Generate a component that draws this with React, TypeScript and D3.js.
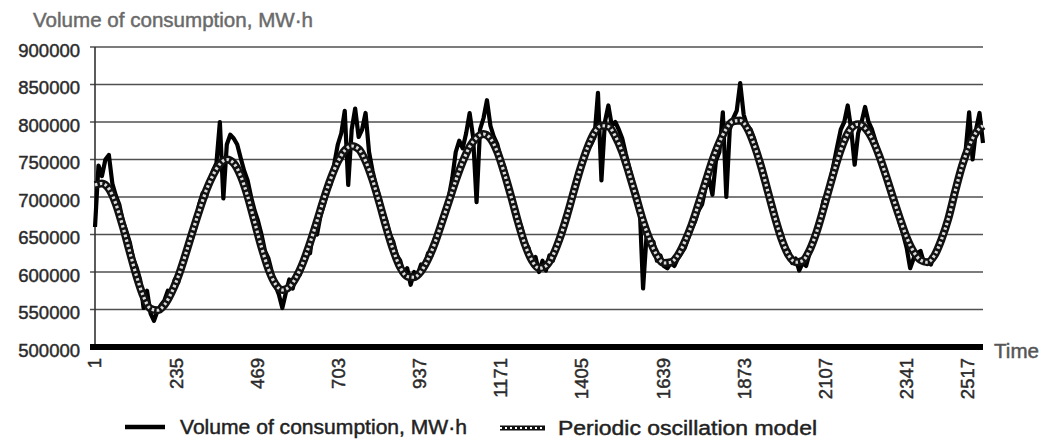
import React from "react";
import * as d3 from "d3";

// Values in thousands of MW·h
const UNIT = 1000;
const ACTUAL_STEP = 10; // time units between consumption samples
const MODEL_STEP = 20; // time units between model samples
const START_T = 1;

const consumption = [
  660, 742, 728, 750, 756, 718, 702, 690, 668, 655,
  640, 618, 606, 590, 552, 575, 545, 535, 548, 556,
  562, 575, 570, 590, 586, 612, 618, 640, 645, 660,
  690, 705, 700, 722, 735, 745, 800, 698, 770, 783,
  778, 770, 752, 735, 722, 700, 682, 668, 650, 628,
  618, 600, 582, 570, 552, 572, 590, 578, 598, 596,
  608, 630, 625, 660, 650, 675, 690, 708, 718, 745,
  770, 785, 815, 716, 790, 818, 780, 790, 812, 760,
  735, 715, 700, 680, 668, 650, 640, 622, 615, 598,
  605, 583, 600, 596, 610, 605, 625, 622, 645, 650,
  672, 675, 700, 725, 760, 775, 765, 785, 812, 780,
  693, 790, 805, 829, 795, 780, 770, 752, 740, 722,
  705, 690, 672, 658, 640, 632, 612, 620, 600, 615,
  602, 622, 615, 632, 640, 655, 668, 685, 702, 718,
  735, 748, 762, 770, 780, 839, 722, 800, 822, 795,
  800, 790, 778, 758, 740, 722, 705, 690, 578, 648,
  645, 640, 615, 622, 608, 605, 612, 608, 618, 625,
  632, 645, 658, 668, 682, 690, 712, 725, 703, 748,
  760, 813, 700, 790, 805, 815, 852, 810, 795, 790,
  778, 760, 748, 730, 712, 695, 680, 662, 650, 632,
  628, 612, 618, 602, 612, 608, 625, 640, 650, 672,
  695, 705, 722, 745, 768, 790, 800, 822, 790, 743,
  785, 800, 820, 800, 790, 775, 760, 745, 732, 718,
  700, 690, 665, 650, 632, 605, 618, 625, 628, 612,
  615, 610, 625, 630, 648, 655, 670, 688, 710, 722,
  745, 762, 813, 750, 790, 812, 772,
];

const model = [
  716, 718, 711, 691, 661, 627, 594, 567, 551, 549,
  556, 572, 594, 622, 652, 681, 708, 729, 744, 750,
  745, 728, 701, 667, 633, 604, 584, 576, 580, 593,
  613, 639, 668, 698, 725, 747, 762, 768, 764, 748,
  723, 692, 659, 629, 606, 594, 593, 601, 617, 639,
  666, 694, 722, 747, 767, 779, 784, 778, 760, 732,
  700, 666, 636, 615, 605, 608, 622, 645, 674, 707,
  739, 766, 786, 795, 794, 781, 760, 731, 700, 668,
  642, 622, 612, 613, 622, 640, 663, 691, 720, 749,
  773, 791, 801, 802, 792, 770, 741, 707, 673, 643,
  622, 613, 615, 629, 653, 684, 717, 749, 775, 792,
  797, 792, 778, 756, 729, 700, 672, 646, 627, 616,
  613, 622, 643, 671, 708, 742, 768, 786, 795,
];

const yTicks = [500000, 550000, 600000, 650000, 700000, 750000, 800000, 850000, 900000];
const xTicks = [1, 235, 469, 703, 937, 1171, 1405, 1639, 1873, 2107, 2341, 2517];
const X_DOMAIN = [1, 2561];
const Y_DOMAIN = [500000, 900000];

const TITLE = "Volume of consumption, MW·h";
const X_TITLE = "Time";
const LEGEND_ACTUAL = "Volume of consumption, MW·h";
const LEGEND_MODEL = "Periodic oscillation model";

const W = 1039;
const H = 441;
const FONT = "Liberation Sans, Arial, sans-serif";

export default function App() {
  const left = 95;
  const right = 983;
  const top = 47;
  const bottom = 347;

  const x = d3.scaleLinear().domain(X_DOMAIN).range([left, right]);
  const y = d3.scaleLinear().domain(Y_DOMAIN).range([bottom, top]);

  const actualPts = consumption.map((v, i) => [START_T + i * ACTUAL_STEP, v * UNIT] as [number, number]);
  const modelPts = model.map((v, i) => [START_T + i * MODEL_STEP, v * UNIT] as [number, number]);

  const lineA = d3
    .line<[number, number]>()
    .x((d) => x(d[0]))
    .y((d) => y(d[1]));
  const lineM = d3
    .line<[number, number]>()
    .x((d) => x(d[0]))
    .y((d) => y(d[1]))
    .curve(d3.curveMonotoneX);

  const aPath = lineA(actualPts) || "";
  const mPath = lineM(modelPts) || "";

  const heavy = (c: string) => ({ fill: c, stroke: c, strokeWidth: 0.45 });

  return (
    <svg
      width={W}
      height={H}
      style={{ position: "absolute", left: 0, top: 0, background: "#fff" }}
      fontFamily={FONT}
    >
      <rect width={W} height={H} fill="#fff" />
      <text x={33} y={27} fontSize={20} textLength={280} lengthAdjust="spacingAndGlyphs" {...heavy("#6a6a6a")}>
        {TITLE}
      </text>

      {/* grid lines + y ticks */}
      {yTicks.map((t) => (
        <g key={t}>
          {t !== 500000 && (
            <line x1={left - 5} x2={right} y1={y(t)} y2={y(t)} stroke="#505050" strokeWidth={1.4} />
          )}
          <text
            x={80}
            y={y(t) + 3}
            fontSize={18.5}
            textAnchor="end"
            dominantBaseline="central"
            {...heavy("#2a2a2a")}
          >
            {t}
          </text>
        </g>
      ))}

      {/* y axis */}
      <line x1={left} x2={left} y1={top} y2={bottom} stroke="#333" strokeWidth={1.6} />

      {/* actual data */}
      <path d={aPath} fill="none" stroke="#000" strokeWidth={4.2} strokeLinejoin="round" />

      {/* model */}
      <path d={mPath} fill="none" stroke="#111" strokeWidth={8} strokeLinejoin="round" />
      <path
        d={mPath}
        fill="none"
        stroke="#fff"
        strokeWidth={3.2}
        strokeDasharray="2.5 2.5"
        opacity={0.85}
      />

      {/* x axis */}
      <line x1={left - 5} x2={right} y1={bottom} y2={bottom} stroke="#000" strokeWidth={6} />
      <text x={994} y={358} fontSize={20} textLength={45} lengthAdjust="spacingAndGlyphs" {...heavy("#555")}>
        {X_TITLE}
      </text>

      {xTicks.map((t) => (
        <text
          key={t}
          transform={`translate(${x(t)},358) rotate(-90)`}
          textAnchor="end"
          dy="0.35em"
          fontSize={18.5}
          {...heavy("#2a2a2a")}
        >
          {t}
        </text>
      ))}

      {/* legend */}
      <line x1={125} x2={165} y1={427} y2={427} stroke="#000" strokeWidth={4.5} />
      <text x={180} y={434} fontSize={20} textLength={287} lengthAdjust="spacingAndGlyphs" {...heavy("#222")}>
        {LEGEND_ACTUAL}
      </text>
      <line x1={500} x2={545} y1={428} y2={428} stroke="#111" strokeWidth={5} />
      <line x1={500} x2={545} y1={428} y2={428} stroke="#fff" strokeWidth={2} strokeDasharray="2 3" />
      <text x={558} y={435} fontSize={20} textLength={259} lengthAdjust="spacingAndGlyphs" {...heavy("#222")}>
        {LEGEND_MODEL}
      </text>
    </svg>
  );
}
